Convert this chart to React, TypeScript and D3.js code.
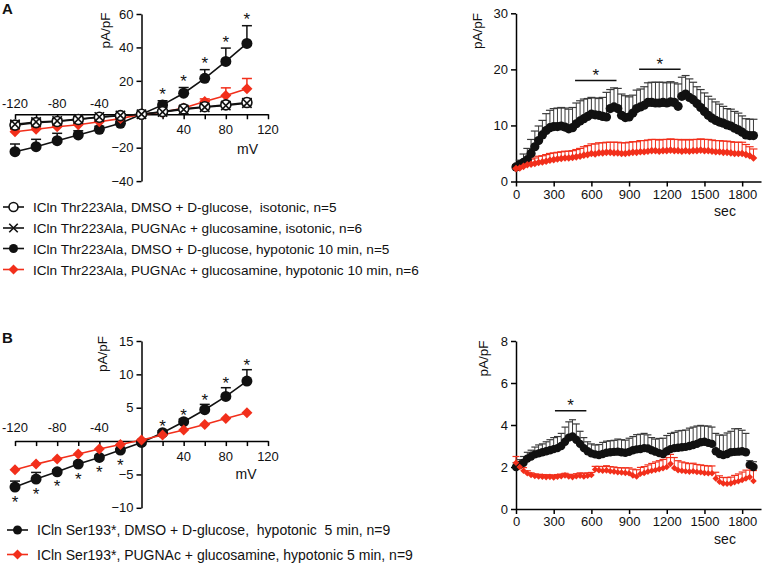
import React, { useEffect, useRef } from 'react';
import * as d3 from 'd3';

const FONT = '"Liberation Sans", Arial, sans-serif';
const RED = '#f22f1b';
const INK = '#111';

// ---- I/V curves (mV) ----
const voltages = [-120, -100, -80, -60, -40, -20, 0, 20, 40, 60, 80, 100];
const mvTicks = [-120, -100, -80, -60, -40, -20, 0, 20, 40, 60, 80, 100, 120];
const mvNegLabels = [-120, -80, -40];
const mvPosLabels = [40, 80, 120];

// panel A, ICln Thr223Ala
const ivIsoDmsoA = [-6.5, -5, -4.3, -3.1, -1.8, -0.8, 0, 1.6, 3.2, 4.5, 5.6, 7];
const ivIsoDmsoSemA = [2.5, 2, 1.8, 1.5, 1.2, 0.8, 0.3, 0.6, 1, 1.4, 1.8, 2.4];
const ivIsoPugA = [-6, -4.6, -4, -2.9, -1.6, -0.7, 0, 1.4, 2.9, 4.2, 5.2, 6.6];
const ivIsoPugSemA = [1.8, 1.6, 1.4, 1.2, 1, 0.7, 0.3, 0.6, 0.9, 1.2, 1.6, 2];
const ivHypoDmsoA = [-22.4, -19.4, -15.8, -12.4, -9, -5.4, 0, 5.6, 12.6, 21.5, 31.6, 42.4];
const ivHypoDmsoSemA = [4.6, 4.4, 4.4, 2.5, 1.8, 1.2, 0.6, 2.5, 3.4, 5.2, 8, 10.6];
const ivHypoPugA = [-10.5, -9, -7.5, -6.3, -4.5, -2.6, 0, 1.2, 3.8, 7.6, 11.2, 15.2];
const ivHypoPugSemA = [1.5, 1.3, 1.2, 1, 0.9, 0.6, 0.3, 0.8, 1.2, 1.6, 4.6, 6.2];
const ivStarsA = [20, 40, 60, 80, 100];
const ivYTicksA = [-40, -20, 20, 40, 60];

// panel B, ICln Ser193*
const ivHypoDmsoB = [-6.9, -5.7, -4.6, -3.45, -2.45, -1.35, -0.2, 1.25, 2.9, 4.7, 6.7, 9.0];
const ivHypoDmsoSemB = [0.9, 1.0, 0.3, 0.3, 0.3, 0.2, 0.2, 0.3, 0.4, 0.8, 1.3, 1.7];
const ivHypoPugB = [-4.3, -3.45, -2.7, -1.95, -1.2, -0.5, 0.15, 0.9, 1.65, 2.5, 3.4, 4.25];
const ivStarsBelowB = [-120, -100, -80, -60, -40, -20];
const ivStarsAboveB = [20, 40, 60, 80, 100];
const ivYTicksB = [-10, -5, 5, 10, 15];

// ---- time courses (sec) ----
const seconds = [
  0, 30, 60, 90, 120, 150, 180, 210,
  240, 270, 300, 330, 360, 390, 420, 450,
  480, 510, 540, 570, 600, 630, 660, 690,
  720, 750, 780, 810, 840, 870, 900, 930,
  960, 990, 1020, 1050, 1080, 1110, 1140, 1170,
  1200, 1230, 1260, 1290, 1320, 1350, 1380, 1410,
  1440, 1470, 1500, 1530, 1560, 1590, 1620, 1650,
  1680, 1710, 1740, 1770, 1800, 1830, 1860, 1890,
];
const secTicks = [0, 300, 600, 900, 1200, 1500, 1800];

const tcDmsoA = [
  2.6, 3.0, 3.4, 3.9, 5.0, 6.2, 7.3, 8.3,
  9.1, 9.6, 9.8, 9.8, 9.9, 9.7, 9.4, 9.6,
  10.3, 10.8, 11.2, 11.6, 12.0, 11.9, 11.8, 11.6,
  11.5, 13.0, 13.3, 13.0, 11.8, 11.4, 11.5, 12.2,
  13.0, 13.3, 13.6, 14.1, 14.1, 14.0, 14.0, 14.1,
  14.0, 14.2, 14.1, 13.4, 15.2, 15.6, 15.0, 14.6,
  13.9, 13.2, 12.5, 11.8, 11.3, 10.9, 10.6, 10.4,
  10.1, 9.9, 9.5, 9.2, 8.8, 8.3, 8.2, 8.2,
];
const tcDmsoSemA = [
  0.4, 0.8, 1.5, 2.0, 2.5, 2.8, 2.6, 2.6,
  3.0, 3.1, 3.2, 3.3, 3.3, 3.4, 3.5, 3.6,
  3.7, 3.6, 3.5, 3.2, 3.0, 3.0, 3.0, 3.4,
  4.4, 3.4, 3.4, 3.6, 3.8, 3.9, 3.6, 3.2,
  3.3, 3.2, 3.3, 3.5, 3.6, 3.7, 3.7, 3.6,
  3.6, 3.6, 3.5, 4.0, 3.4, 3.3, 3.3, 3.1,
  3.0, 3.2, 3.3, 3.4, 3.4, 3.3, 3.2, 3.0,
  2.9, 3.0, 3.0, 3.0, 2.9, 2.9, 2.9, 2.9,
];
const tcPugA = [
  2.3, 2.4, 2.7, 3.0, 3.1, 3.2, 3.4, 3.5,
  3.6, 3.8, 3.9, 4.0, 4.1, 4.2, 4.2, 4.3,
  4.4, 4.5, 4.7, 4.8, 5.0, 4.9, 5.1, 5.1,
  5.2, 5.2, 5.1, 5.1, 5.0, 5.0, 5.1, 5.2,
  5.2, 5.3, 5.3, 5.4, 5.5, 5.5, 5.4, 5.5,
  5.5, 5.6, 5.5, 5.5, 5.4, 5.5, 5.4, 5.5,
  5.5, 5.6, 5.5, 5.5, 5.4, 5.3, 5.3, 5.2,
  5.2, 5.1, 5.0, 5.0, 5.0, 4.8, 4.6, 4.2,
];
const tcPugSemA = [
  0.6, 0.6, 0.7, 0.8, 0.9, 1.0, 1.1, 1.1,
  1.2, 1.2, 1.2, 1.2, 1.2, 1.2, 1.2, 1.2,
  1.3, 1.4, 1.5, 1.6, 1.7, 1.8, 1.8, 1.8,
  1.8, 1.8, 1.9, 1.9, 1.9, 1.9, 1.9, 1.9,
  1.9, 2.0, 2.0, 2.0, 2.0, 2.0, 2.0, 2.0,
  2.0, 2.0, 2.0, 2.0, 2.0, 2.0, 2.0, 2.0,
  2.0, 2.0, 2.0, 2.0, 2.0, 2.0, 2.0, 2.0,
  2.0, 2.0, 2.0, 2.0, 2.0, 1.8, 1.6, 1.6,
];
const tcSigA = [
  { from: 470, to: 800, value: 18 },
  { from: 980, to: 1310, value: 20 },
];

const tcDmsoB = [
  2.0, 2.1, 2.2, 2.4, 2.5, 2.6, 2.65, 2.7,
  2.75, 2.8, 2.85, 2.9, 3.0, 3.2, 3.4, 3.45,
  3.3, 3.1, 2.9, 2.75, 2.65, 2.6, 2.57, 2.62,
  2.68, 2.7, 2.72, 2.73, 2.7, 2.68, 2.72, 2.8,
  2.84, 2.86, 2.9, 2.88, 2.8, 2.73, 2.66, 2.62,
  2.75, 2.85, 2.9, 2.92, 2.94, 2.96, 3.0, 3.05,
  3.1, 3.18, 3.2, 3.15, 3.1, 2.75, 2.62, 2.57,
  2.62, 2.7, 2.72, 2.73, 2.75, 2.7, 2.1, 2.0,
];
const tcDmsoSemB = [
  0.2, 0.25, 0.3, 0.3, 0.3, 0.35, 0.4, 0.4,
  0.45, 0.5, 0.55, 0.55, 0.6, 0.7, 0.75, 0.8,
  0.75, 0.6, 0.5, 0.45, 0.45, 0.45, 0.5, 0.55,
  0.55, 0.55, 0.55, 0.6, 0.6, 0.6, 0.65, 0.65,
  0.7, 0.7, 0.7, 0.65, 0.6, 0.6, 0.7, 0.75,
  0.75, 0.75, 0.75, 0.8, 0.8, 0.8, 0.85, 0.85,
  0.85, 0.8, 0.75, 0.8, 0.8, 0.85, 0.9, 0.95,
  1.0, 1.0, 1.1, 1.1, 1.0, 0.9, 0.2, 0.25,
];
const tcPugB = [
  2.2, 2.0, 1.82, 1.7, 1.62, 1.57, 1.55, 1.54,
  1.52, 1.53, 1.5, 1.54, 1.56, 1.6, 1.55, 1.52,
  1.56, 1.58, 1.55, 1.58, 1.62, 1.88, 1.85, 1.82,
  1.84, 1.8, 1.78, 1.75, 1.74, 1.72, 1.7, 1.6,
  1.55, 1.68, 1.72, 1.78, 1.82, 1.86, 1.9, 1.94,
  2.0, 2.15, 1.95, 1.85, 1.82, 1.8, 1.78, 1.8,
  1.76, 1.75, 1.72, 1.7, 1.7, 1.45, 1.3, 1.22,
  1.2, 1.22, 1.28, 1.32, 1.38, 1.45, 1.52, 1.33,
];
const tcPugSemB = [
  0.3, 0.2, 0.15, 0.12, 0.1, 0.1, 0.1, 0.1,
  0.1, 0.1, 0.1, 0.1, 0.1, 0.1, 0.1, 0.1,
  0.12, 0.14, 0.15, 0.14, 0.12, 0.15, 0.18, 0.2,
  0.22, 0.22, 0.22, 0.22, 0.22, 0.24, 0.26, 0.3,
  0.32, 0.3, 0.3, 0.32, 0.35, 0.38, 0.4, 0.42,
  0.45, 0.45, 0.5, 0.45, 0.42, 0.4, 0.38, 0.38,
  0.36, 0.35, 0.35, 0.35, 0.35, 0.3, 0.28, 0.28,
  0.3, 0.3, 0.32, 0.35, 0.38, 0.4, 0.45, 0.5,
];
const tcSigB = [{ from: 310, to: 560, value: 4.68 }];

const legendA = [
  { label: 'ICln Thr223Ala, DMSO + D-glucose,  isotonic, n=5', type: 'open', color: INK },
  { label: 'ICln Thr223Ala, PUGNAc + glucosamine, isotonic, n=6', type: 'cross', color: INK },
  { label: 'ICln Thr223Ala, DMSO + D-glucose, hypotonic 10 min, n=5', type: 'filled', color: INK },
  { label: 'ICln Thr223Ala, PUGNAc + glucosamine, hypotonic 10 min, n=6', type: 'diamond', color: RED },
];
const legendB = [
  { label: 'ICln Ser193*, DMSO + D-glucose,  hypotonic  5 min, n=9', type: 'filled', color: INK },
  { label: 'ICln Ser193*, PUGNAc + glucosamine, hypotonic 5 min, n=9', type: 'diamond', color: RED },
];

type Sel = d3.Selection<any, any, any, any>;

const addMarker = (sel: Sel, type: string, r: number, color: string) => {
  if (type === 'filled') {
    sel.append('circle').attr('r', r).attr('fill', color);
  } else if (type === 'open') {
    sel.append('circle').attr('r', r - 0.5).attr('fill', '#fff').attr('stroke', color).attr('stroke-width', 1.6);
  } else if (type === 'cross') {
    const k = r * 0.85;
    sel.append('path').attr('d', `M${-k},${-k}L${k},${k}M${-k},${k}L${k},${-k}`)
      .attr('stroke', color).attr('stroke-width', 1.6).attr('fill', 'none');
  } else {
    sel.append('path').attr('d', `M0,${-r}L${r},0L0,${r}L${-r},0Z`).attr('fill', color);
  }
};

const styleAxis = (sel: Sel) => {
  sel.attr('font-family', FONT).attr('font-size', 13);
  sel.selectAll('path, line').attr('stroke', '#000').attr('stroke-width', 1.5);
  sel.selectAll('text').attr('fill', INK);
};

const star = (g: Sel, cx: number, cy: number) => {
  // asterisk glyph sits high in the em box, shift baseline so it is centred on cy
  g.append('text').attr('x', cx).attr('y', cy + 9.5).attr('text-anchor', 'middle')
    .attr('font-family', FONT).attr('font-size', 17).attr('fill', INK).text('*');
};

const yLabel = (g: Sel, x: number, y: number) => {
  g.append('text').attr('transform', `translate(${x},${y}) rotate(-90)`)
    .attr('text-anchor', 'middle').attr('font-family', FONT).attr('font-size', 13.5)
    .attr('fill', INK).text('pA/pF');
};

const plainText = (g: Sel, x: number, y: number, txt: string, size = 14, anchor = 'middle', weight = 'normal') => {
  g.append('text').attr('x', x).attr('y', y).attr('text-anchor', anchor)
    .attr('font-family', FONT).attr('font-size', size).attr('font-weight', weight)
    .attr('fill', INK).text(txt);
};

const drawIV = (g: Sel, x: d3.ScaleLinear<number, number>, y: d3.ScaleLinear<number, number>,
  yTicks: number[], negLabelGap: number, series: any[]) => {
  const xa = g.append('g').attr('transform', `translate(0,${y(0)})`)
    .call(d3.axisBottom(x).tickValues(mvTicks).tickSize(5).tickSizeOuter(0).tickFormat(() => ''));
  styleAxis(xa);
  const ya = g.append('g').attr('transform', `translate(${x(0)},0)`)
    .call(d3.axisLeft(y).tickValues(yTicks).tickSize(5).tickSizeOuter(0).tickPadding(3));
  styleAxis(ya);
  mvNegLabels.forEach(v => plainText(g, x(v), y(0) - negLabelGap, String(v), 13));
  mvPosLabels.forEach(v => plainText(g, x(v), y(0) + 20, String(v), 13));

  const line = d3.line<number>().x((_, i) => x(voltages[i])).y(d => y(d));
  series.forEach(s => {
    g.append('path').attr('d', line(s.values)).attr('fill', 'none')
      .attr('stroke', s.color).attr('stroke-width', 1.6);
  });
  series.forEach(s => {
    if (!s.sem) return;
    s.values.forEach((v: number, i: number) => {
      const cx = x(voltages[i]);
      const top = y(v + s.sem[i]);
      g.append('line').attr('x1', cx).attr('x2', cx).attr('y1', y(v)).attr('y2', top)
        .attr('stroke', s.color).attr('stroke-width', 1.5);
      g.append('line').attr('x1', cx - 5).attr('x2', cx + 5).attr('y1', top).attr('y2', top)
        .attr('stroke', s.color).attr('stroke-width', 1.5);
    });
  });
  series.forEach(s => {
    s.values.forEach((v: number, i: number) => {
      const m = g.append('g').attr('transform', `translate(${x(voltages[i])},${y(v)})`);
      addMarker(m, s.type, s.r, s.color);
    });
  });
};

const drawTime = (g: Sel, x: d3.ScaleLinear<number, number>, y: d3.ScaleLinear<number, number>,
  yTicks: number[], series: any[], sig: any[], cap: number) => {
  const xa = g.append('g').attr('transform', `translate(0,${y(0)})`)
    .call(d3.axisBottom(x).tickValues(secTicks).tickSize(5).tickSizeOuter(0).tickPadding(3)
      .tickFormat(d3.format('d')));
  styleAxis(xa);
  const ya = g.append('g').attr('transform', `translate(${x(0)},0)`)
    .call(d3.axisLeft(y).tickValues(yTicks).tickSize(5).tickSizeOuter(0).tickPadding(3));
  styleAxis(ya);

  series.forEach(s => {
    s.values.forEach((v: number, i: number) => {
      const cx = x(seconds[i]);
      const top = y(v + s.sem[i]);
      g.append('line').attr('x1', cx).attr('x2', cx).attr('y1', y(v)).attr('y2', top)
        .attr('stroke', s.errColor).attr('stroke-width', 1);
      g.append('line').attr('x1', cx - cap).attr('x2', cx + cap).attr('y1', top).attr('y2', top)
        .attr('stroke', s.errColor).attr('stroke-width', 1.2);
    });
  });
  series.forEach(s => {
    s.values.forEach((v: number, i: number) => {
      const m = g.append('g').attr('transform', `translate(${x(seconds[i])},${y(v)})`);
      addMarker(m, s.type, s.r, s.color);
    });
  });
  sig.forEach(b => {
    g.append('line').attr('x1', x(b.from)).attr('x2', x(b.to)).attr('y1', y(b.value)).attr('y2', y(b.value))
      .attr('stroke', INK).attr('stroke-width', 1.5);
    star(g, (x(b.from) + x(b.to)) / 2, y(b.value) - 9);
  });
};

const drawLegend = (g: Sel, items: any[], x0: number, rows: number[], size: number) => {
  items.forEach((it, i) => {
    const cy = rows[i];
    g.append('line').attr('x1', x0).attr('x2', x0 + 21).attr('y1', cy).attr('y2', cy)
      .attr('stroke', it.color).attr('stroke-width', 1.6);
    const m = g.append('g').attr('transform', `translate(${x0 + 10.5},${cy})`);
    addMarker(m, it.type, it.type === 'filled' ? 4.5 : 5, it.color);
    g.append('text').attr('x', x0 + 30).attr('y', cy + 5).attr('font-family', FONT)
      .attr('font-size', size).attr('fill', INK).attr('xml:space', 'preserve')
      .style('white-space', 'pre').text(it.label);
  });
};

export default function App() {
  const svgRef = useRef<SVGSVGElement>(null);

  useEffect(() => {
    const svg = d3.select(svgRef.current);
    svg.selectAll('*').remove();
    const g = svg.append('g');

    // ---------- panel A ----------
    const xIV = d3.scaleLinear().domain([-120, 120]).range([15, 268]);
    const yIVA = d3.scaleLinear().domain([-40, 60]).range([181.1, 14]);
    drawIV(g, xIV, yIVA, ivYTicksA, 6.5, [
      { values: ivHypoDmsoA, sem: ivHypoDmsoSemA, type: 'filled', color: INK, r: 5.5 },
      { values: ivHypoPugA, sem: ivHypoPugSemA, type: 'diamond', color: RED, r: 5.5 },
      { values: ivIsoDmsoA, sem: ivIsoDmsoSemA, type: 'open', color: INK, r: 5.5 },
      { values: ivIsoPugA, sem: ivIsoPugSemA, type: 'cross', color: INK, r: 5.5 },
    ]);
    ivStarsA.forEach(v => {
      const i = voltages.indexOf(v);
      star(g, xIV(v), yIVA(ivHypoDmsoA[i] + ivHypoDmsoSemA[i]) - 10);
    });
    plainText(g, 2, 14, 'A', 15, 'start', 'bold');
    yLabel(g, 110, 30.5);
    plainText(g, 247.5, 154, 'mV', 14);
    drawLegend(g, legendA, 3, [207, 228, 248.5, 269.5], 13.6);

    const xTC = d3.scaleLinear().domain([0, 1950]).range([516, 761]);
    const yTCA = d3.scaleLinear().domain([0, 30]).range([181.5, 13.3]);
    drawTime(g, xTC, yTCA, [0, 10, 20, 30], [
      { values: tcDmsoA, sem: tcDmsoSemA, type: 'filled', color: INK, errColor: '#3a3a3a', r: 4.6 },
      { values: tcPugA, sem: tcPugSemA, type: 'diamond', color: RED, errColor: RED, r: 3.8 },
    ], tcSigA, 4);
    yLabel(g, 481.5, 31);
    plainText(g, 725, 216, 'sec', 14);

    // ---------- panel B ----------
    const yIVB = d3.scaleLinear().domain([-10, 15]).range([507.8, 341]);
    drawIV(g, xIV, yIVB, ivYTicksB, 9.5, [
      { values: ivHypoDmsoB, sem: ivHypoDmsoSemB, type: 'filled', color: INK, r: 5.5 },
      { values: ivHypoPugB, sem: null, type: 'diamond', color: RED, r: 5.5 },
    ]);
    ivStarsAboveB.forEach(v => {
      const i = voltages.indexOf(v);
      star(g, xIV(v), yIVB(ivHypoDmsoB[i] + ivHypoDmsoSemB[i]) - 8);
    });
    ivStarsBelowB.forEach(v => {
      const i = voltages.indexOf(v);
      star(g, xIV(v), yIVB(ivHypoDmsoB[i]) + 11);
    });
    plainText(g, 2, 343, 'B', 15, 'start', 'bold');
    yLabel(g, 106.5, 354);
    plainText(g, 246, 478.5, 'mV', 14);
    drawLegend(g, legendB, 7, [530, 554.5], 14);

    const yTCB = d3.scaleLinear().domain([0, 8]).range([509, 341]);
    drawTime(g, xTC, yTCB, [0, 2, 4, 6, 8], [
      { values: tcDmsoB, sem: tcDmsoSemB, type: 'filled', color: INK, errColor: '#3a3a3a', r: 4.2 },
      { values: tcPugB, sem: tcPugSemB, type: 'diamond', color: RED, errColor: RED, r: 3.3 },
    ], tcSigB, 3.5);
    yLabel(g, 488, 358.5);
    plainText(g, 725, 543.5, 'sec', 14);
  }, []);

  return (
    <svg ref={svgRef} width={770} height={563}
      style={{ position: 'absolute', left: 0, top: 0, background: '#fff' }} />
  );
}
